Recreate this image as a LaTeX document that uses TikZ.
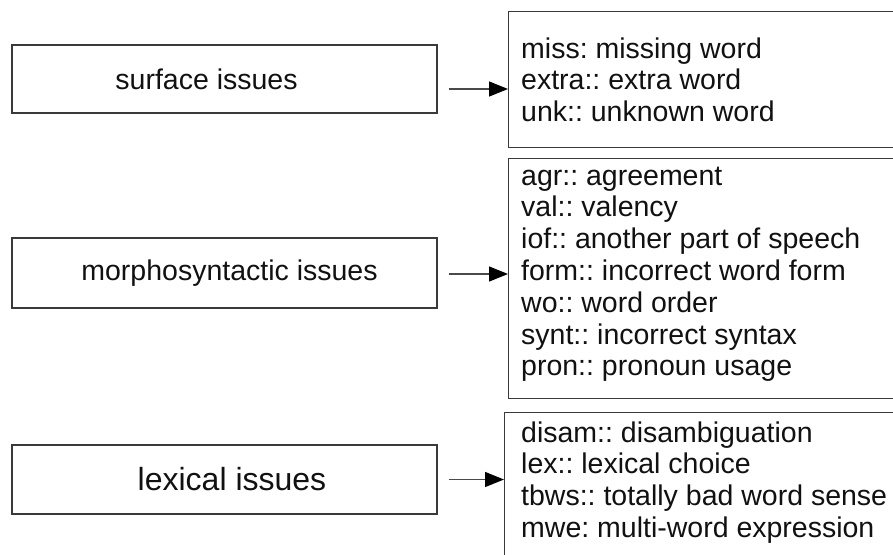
\documentclass[tikz,border=0pt]{standalone}
\usepackage{fontspec}
\setmainfont{Liberation Sans}
\usetikzlibrary{arrows.meta}
\definecolor{boxgray}{HTML}{3A3A3A}
\definecolor{arrowgray}{HTML}{4A4A4A}
\definecolor{ink}{HTML}{111111}
\begin{document}
\frenchspacing
\begin{tikzpicture}[x=1pt,y=-1pt,
  cat/.style={draw=boxgray, line width=1.3pt, minimum width=425pt, inner sep=0pt,
              font=\fontsize{28.5}{32}\selectfont, text=ink},
  listbox/.style={draw=boxgray, line width=1.3pt, inner sep=0pt, anchor=north west,
                  minimum width=400pt},
  listtext/.style={anchor=north west, inner sep=0pt, align=left,
                   font=\fontsize{28.5}{31.8}\selectfont, text=ink},
  arr/.style={draw=arrowgray, line width=1.3pt,
              -{Triangle[length=19pt,width=15pt,color=black]}}]
\fill[white] (0,0) rectangle (893,554);
\useasboundingbox (0,0) rectangle (893,554);

% category boxes on the left
\node[cat, minimum height=68pt] (s) at (224.5,79) {surface issues\hspace*{36pt}};
\node[cat, minimum height=70pt] (m) at (224.5,273) {\hspace*{10pt}morphosyntactic issues};
\node[cat, minimum height=69pt, font=\fontsize{32}{36}\selectfont] (l) at (224.5,479.5)
  {\hspace*{15pt}lexical issues};

% tag lists on the right
\node[listbox, minimum height=136pt] (r1) at (508,11) {};
\node[listbox, minimum height=240pt] (r2) at (508,158) {};
\node[listbox, minimum height=160pt] (r3) at (504,412) {};

\node[listtext] (r1t) at (521,35.7) {\strut miss: missing word\\extra:: extra word\\unk:: unknown word};
\node[listtext] (r2t) at (521,162.7) {\strut agr:: agreement\\val:: valency\\iof:: another part of speech\\form:: incorrect word form\\wo:: word order\\synt:: incorrect syntax\\pron:: pronoun usage};
\node[listtext] (r3t) at (521,419.7) {\strut disam:: disambiguation\\lex:: lexical choice\\tbws:: totally bad word sense\\mwe: multi-word expression};

% connectors
\draw[arr] ([xshift=11pt,yshift=-10pt]s.east) -- ([yshift=-10pt]s.east -| r1.west);
\draw[arr] ([xshift=11pt,yshift=-1pt]m.east) -- ([yshift=-1pt]m.east -| r2.west);
\draw[arr] ([xshift=11pt]l.east) -- (l.east -| r3.west);
\end{tikzpicture}
\end{document}
